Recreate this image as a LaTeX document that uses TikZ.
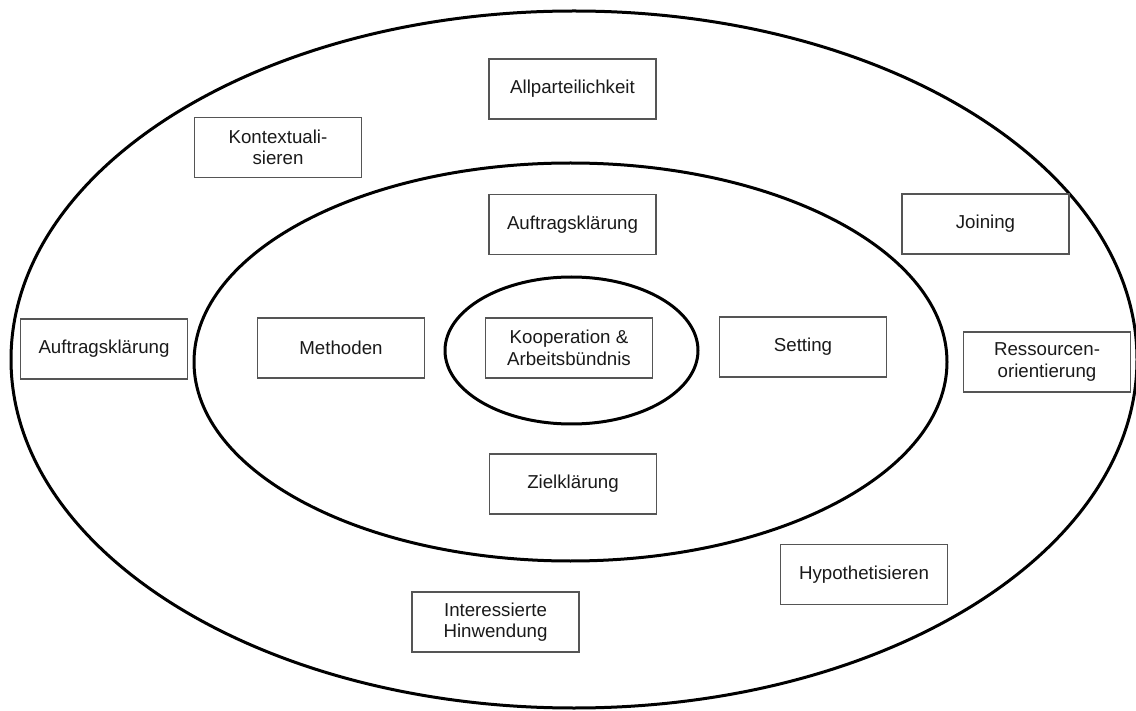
\documentclass[tikz,border=0pt]{standalone}
\usepackage{fontspec}
\setmainfont{Liberation Sans}
\usetikzlibrary{shapes.geometric}
\definecolor{boxline}{HTML}{555555}
\definecolor{txt}{HTML}{1A1A1A}
\tikzset{
  ring/.style={draw=black, line width=3pt, ellipse, inner sep=0pt},
  topic/.style={draw=boxline, line width=1.1pt, fill=white, rectangle,
    minimum width=167pt, minimum height=60pt, inner sep=0pt, align=center,
    text=txt, font=\fontsize{18.7pt}{21.6pt}\selectfont}
}
\begin{document}
\begin{tikzpicture}[x=1pt,y=-1pt]
\useasboundingbox (0,0) rectangle (1136,711);
% rings
\node[ring, minimum width=1126pt, minimum height=697pt] (outer) at (574,359.5) {};
\node[ring, minimum width=753pt, minimum height=398pt] (middle) at (570.5,362) {};
\node[ring, minimum width=253pt, minimum height=147pt] (inner) at (571.5,350.5) {};
% outer ring topics
\node[topic] (allpart) at (572.5,89) {Allparteilichkeit};
\node[topic] (kontext) at (278,147.5) {Kontextuali-\\sieren};
\node[topic] (joining) at (985.5,224) {Joining};
\node[topic] (auftragL) at (104,349) {Auftragsklärung};
\node[topic] (ressourcen) at (1047,362) {Ressourcen-\\orientierung};
\node[topic] (hypo) at (864,574.5) {Hypothetisieren};
\node[topic] (interesse) at (495.5,622) {Interessierte\\Hinwendung};
% middle ring topics
\node[topic] (auftragT) at (572.5,224.5) {Auftragsklärung};
\node[topic] (methoden) at (341,348) {Methoden};
\node[topic] (setting) at (803,347) {Setting};
\node[topic] (ziel) at (573,484) {Zielklärung};
% center
\node[topic] (koop) at (569,348) {Kooperation \&\\Arbeitsbündnis};
\end{tikzpicture}
\end{document}
